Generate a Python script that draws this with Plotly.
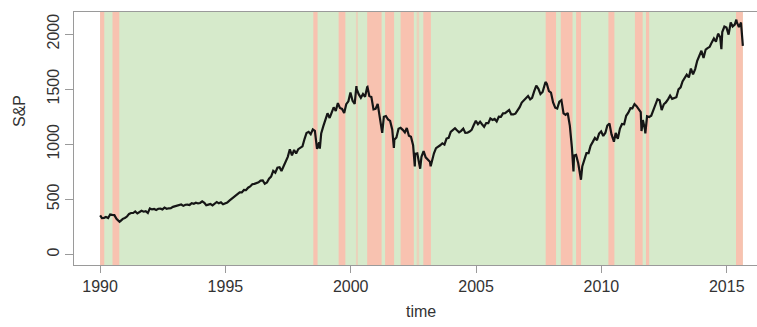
import plotly.graph_objects as go

# ---- data ----
start_year = 1990
monthly_close = [
    # 1990
    329, 331, 339, 330, 361, 358, 356, 322, 306, 304, 322, 330,
    # 1991
    343, 367, 375, 375, 389, 371, 387, 395, 387, 392, 375, 417,
    # 1992
    408, 412, 403, 414, 415, 408, 424, 414, 418, 419, 431, 436,
    # 1993
    439, 443, 452, 440, 450, 451, 448, 464, 459, 468, 462, 466,
    # 1994
    481, 467, 445, 451, 457, 444, 458, 475, 463, 472, 454, 459,
    # 1995
    470, 487, 501, 515, 533, 545, 562, 562, 584, 582, 605, 616,
    # 1996
    636, 640, 645, 654, 669, 671, 640, 652, 687, 705, 757, 741,
    # 1997
    786, 791, 757, 801, 848, 885, 954, 899, 947, 915, 955, 970,
    # 1998
    980, 1049, 1102, 1112, 1091, 1134, 1121, 957, 1017, 1098, 1164, 1229,
    # 1999
    1280, 1238, 1286, 1335, 1302, 1373, 1329, 1320, 1283, 1363, 1389, 1469,
    # 2000
    1394, 1366, 1499, 1452, 1421, 1455, 1431, 1518, 1437, 1429, 1315, 1320,
    # 2001
    1366, 1240, 1160, 1249, 1256, 1224, 1211, 1134, 1041, 1060, 1139, 1148,
    # 2002
    1130, 1107, 1147, 1077, 1067, 990, 912, 916, 815, 886, 936, 880,
    # 2003
    856, 841, 848, 917, 964, 975, 990, 1008, 996, 1051, 1058, 1112,
    # 2004
    1131, 1145, 1126, 1107, 1121, 1141, 1102, 1104, 1115, 1130, 1174, 1212,
    # 2005
    1181, 1204, 1181, 1157, 1192, 1191, 1234, 1220, 1229, 1207, 1249, 1248,
    # 2006
    1280, 1281, 1295, 1311, 1270, 1270, 1277, 1304, 1336, 1378, 1401, 1418,
    # 2007
    1438, 1407, 1421, 1482, 1531, 1503, 1455, 1474, 1527, 1549, 1481, 1468,
    # 2008
    1379, 1331, 1323, 1386, 1400, 1280, 1267, 1283, 1166, 969, 896, 903,
    # 2009
    826, 735, 798, 873, 919, 919, 987, 1021, 1057, 1036, 1096, 1115,
    # 2010
    1074, 1104, 1169, 1187, 1089, 1031, 1102, 1049, 1141, 1183, 1181, 1258,
    # 2011
    1286, 1327, 1326, 1364, 1345, 1321, 1292, 1219, 1131, 1253, 1247, 1258,
    # 2012
    1312, 1366, 1408, 1398, 1310, 1362, 1379, 1407, 1441, 1412, 1416, 1426,
    # 2013
    1498, 1515, 1569, 1598, 1631, 1606, 1686, 1633, 1682, 1757, 1806, 1848,
    # 2014
    1783, 1859, 1872, 1884, 1924, 1960, 1931, 2003, 1972, 2018, 2068, 2059,
    # 2015
    1995, 2105, 2068, 2086, 2107, 2063, 2104,
]

# intra-month turning points visible in the picture
extra_dates = ["1990-01-02", "1990-10-11", "1998-10-08", "2000-03-24", "2000-09-01",
               "2001-04-04", "2001-09-21", "2002-07-23", "2002-10-09", "2003-03-11",
               "2007-10-09", "2008-11-20", "2009-03-09", "2010-07-02", "2011-08-08",
               "2011-10-03", "2014-10-15", "2015-05-21", "2015-08-24"]
extra_values = [353, 295, 960, 1527, 1520,
                1103, 966, 797, 777, 800,
                1565, 752, 677, 1022, 1119,
                1099, 1862, 2131, 1893]

# regime bands (pink) over the green data period
data_start = "1990-01-01"
data_end = "2015-08-24"
band_start = ["1990-01-01", "1990-07-01", "1998-07-05", "1999-07-09", "2000-03-17",
              "2000-08-28", "2001-05-16", "2001-12-28", "2002-08-18", "2002-11-24",
              "2007-10-12", "2008-05-19", "2008-12-28", "2010-04-13", "2011-05-04",
              "2011-10-12", "2015-05-16"]
band_end = ["1990-03-03", "1990-10-08", "1998-09-05", "1999-10-15", "2000-04-15",
            "2001-03-26", "2001-09-24", "2002-07-09", "2002-09-24", "2003-03-14",
            "2008-03-11", "2008-11-06", "2009-03-10", "2010-07-09", "2011-08-25",
            "2011-11-28", "2015-08-24"]
band_opacity = [1, 1, 1, 1, 0.6,
                1, 1, 1, 0.6, 1,
                1, 1, 1, 1, 1,
                1, 1]

y_ticks = [0, 500, 1000, 1500, 2000]
x_ticks = ["1990-01-01", "1995-01-01", "2000-01-01", "2005-01-01", "2010-01-01", "2015-01-01"]
x_tick_text = ["1990", "1995", "2000", "2005", "2010", "2015"]

# ---- build series ----
pts = []
for i, v in enumerate(monthly_close):
    y = start_year + i // 12
    m = i % 12 + 1
    pts.append((f"{y}-{m:02d}-28", v))
pts += list(zip(extra_dates, extra_values))
pts.sort(key=lambda p: p[0])
xs = [p[0] for p in pts]
ys = [p[1] for p in pts]

GREEN = "#d6eacb"
PINK = "#f8c2b0"
FONT = "Liberation Sans, Arial, Helvetica, sans-serif"
TXT = "#333333"
FRAME = "#9a9a9a"

fig = go.Figure()
fig.add_trace(go.Scatter(x=xs, y=ys, mode="lines",
                         line=dict(color="#161616", width=2.2), showlegend=False))

shapes = [dict(type="rect", xref="x", yref="paper", x0=data_start, x1=data_end,
               y0=0, y1=1, fillcolor=GREEN, line=dict(width=0), layer="below")]
for s, e, o in zip(band_start, band_end, band_opacity):
    shapes.append(dict(type="rect", xref="x", yref="paper", x0=s, x1=e, y0=0, y1=1,
                       fillcolor=PINK, opacity=o, line=dict(width=0), layer="below"))

fig.update_layout(
    width=757, height=327,
    margin=dict(l=74, r=0, t=12, b=62),
    paper_bgcolor="white", plot_bgcolor="white",
    font=dict(family=FONT, size=16, color=TXT),
    shapes=shapes,
    xaxis=dict(type="date", range=["1988-12-17", "2016-03-17"], automargin=False,
               tickvals=x_ticks, ticktext=x_tick_text,
               showgrid=False, zeroline=False,
               showline=True, linecolor=FRAME, linewidth=1, mirror=True,
               ticks="outside", ticklen=7, tickcolor=FRAME, tickwidth=1,
               tickfont=dict(size=16, color=TXT)),
    yaxis=dict(range=[-97, 2200], tickvals=y_ticks, automargin=False,
               showgrid=False, zeroline=False,
               showline=True, linecolor=FRAME, linewidth=1, mirror=False,
               ticks="outside", ticklen=8, tickcolor=FRAME, tickwidth=1,
               tickangle=-90, tickfont=dict(size=16, color=TXT)),
    annotations=[
        dict(text="time", xref="paper", yref="paper", x=(421 - 74) / 683, y=-0.182,
             showarrow=False, xanchor="center", yanchor="middle",
             font=dict(size=16, color=TXT)),
        dict(text="S&amp;P", xref="paper", yref="paper", x=(20 - 74) / 683, y=(265 - 111) / 253,
             showarrow=False, xanchor="center", yanchor="middle", textangle=-90,
             font=dict(size=16, color=TXT)),
    ],
)

fig.write_html("out.html", config={"displayModeBar": False},
               post_script="document.body.style.margin='0px';document.body.style.overflow='hidden';")
